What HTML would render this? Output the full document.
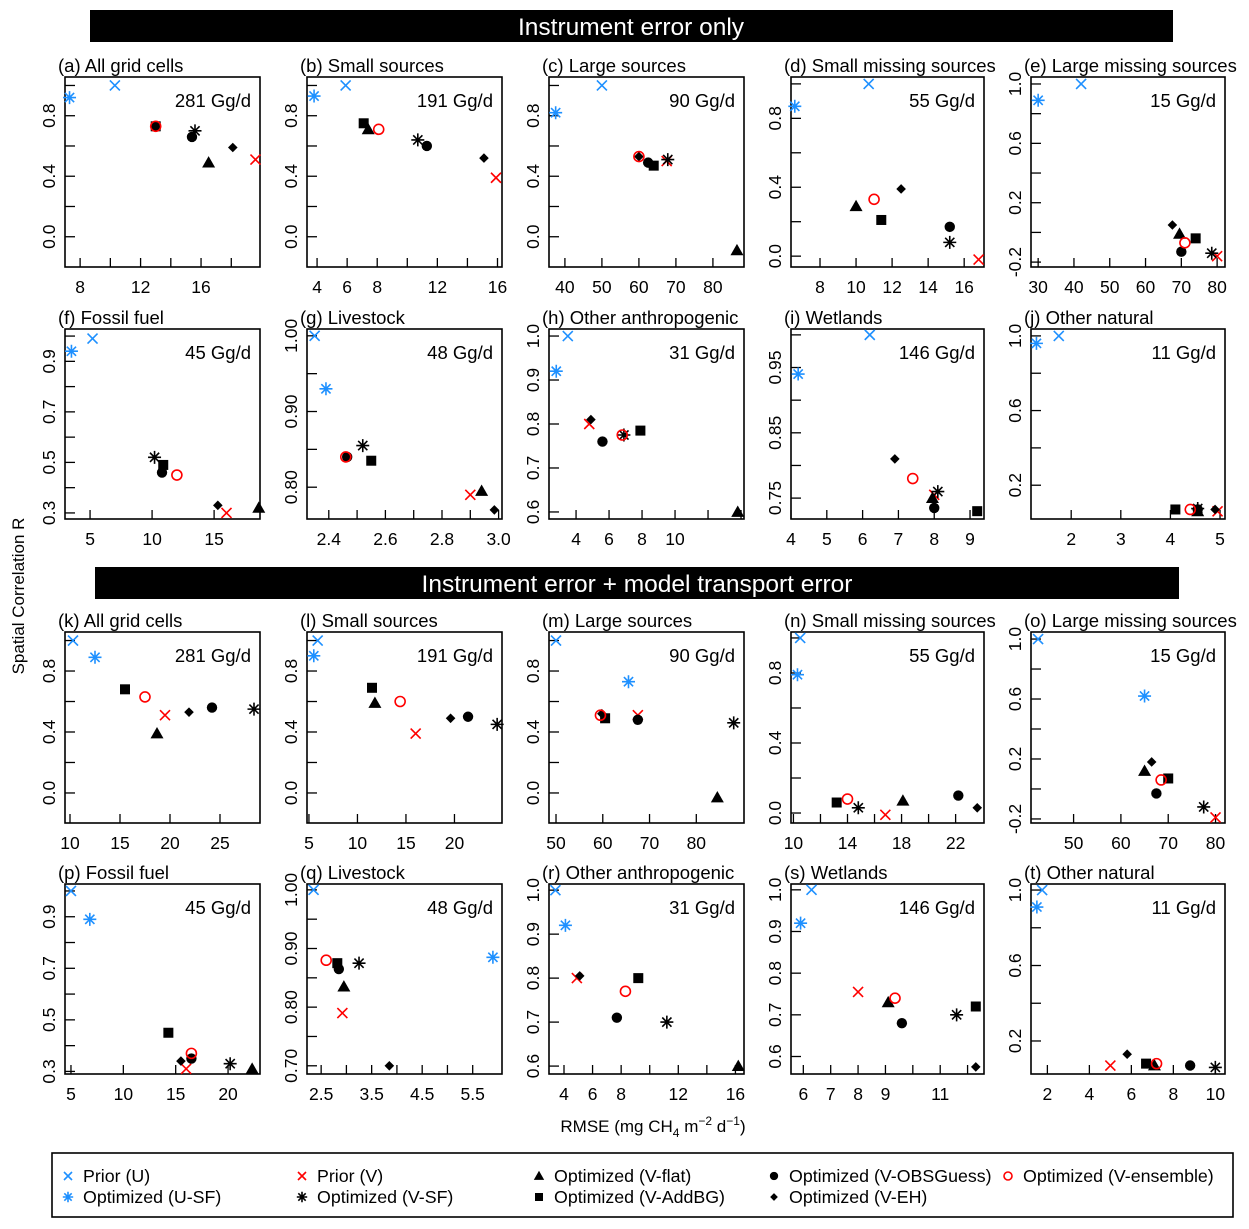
<!DOCTYPE html>
<html><head><meta charset="utf-8">
<style>
html,body{margin:0;padding:0;background:#fff;}
svg{display:block;font-family:"Liberation Sans",Arial,sans-serif;}
</style></head>
<body>
<svg id="chart" width="1249" height="1229" viewBox="0 0 1249 1229" xmlns="http://www.w3.org/2000/svg">
  <rect x="90" y="10" width="1083" height="32" fill="#000"/>
  <text x="631" y="35" font-size="24.5" fill="#fff" text-anchor="middle">Instrument error only</text>
  <rect x="95" y="567" width="1084" height="32" fill="#000"/>
  <text x="637" y="592" font-size="24.5" fill="#fff" text-anchor="middle">Instrument error + model transport error</text>
  <text transform="translate(24,596) rotate(-90)" font-size="17" text-anchor="middle">Spatial Correlation R</text>
  <text x="653" y="1132" font-size="17" text-anchor="middle">RMSE (mg CH<tspan font-size="12" dy="5">4</tspan><tspan dy="-5"> m</tspan><tspan font-size="12" dy="-7">−2</tspan><tspan dy="7"> d</tspan><tspan font-size="12" dy="-7">−1</tspan><tspan dy="7">)</tspan></text>
  <g id="panels"></g>
  <g id="legend"></g>
</svg>
<script>
// ----- data (panels a..t) -----
const panelIds = ["a","b","c","d","e","f","g","h","i","j","k","l","m","n","o","p","q","r","s","t"];
const panelTitles = ["All grid cells","Small sources","Large sources","Small missing sources","Large missing sources","Fossil fuel","Livestock","Other anthropogenic","Wetlands","Other natural","All grid cells","Small sources","Large sources","Small missing sources","Large missing sources","Fossil fuel","Livestock","Other anthropogenic","Wetlands","Other natural"];
const panelTotals = ["281 Gg/d","191 Gg/d","90 Gg/d","55 Gg/d","15 Gg/d","45 Gg/d","48 Gg/d","31 Gg/d","146 Gg/d","11 Gg/d","281 Gg/d","191 Gg/d","90 Gg/d","55 Gg/d","15 Gg/d","45 Gg/d","48 Gg/d","31 Gg/d","146 Gg/d","11 Gg/d"];

const priorU_x = [10.3,5.9,50,10.7,42,5.2,2.35,3.5,6.2,1.75,10.3,5.9,50,10.5,42.5,5,2.35,3.4,6.3,1.75];
const priorU_y = [1.0,1.0,1.0,1.0,1.0,0.99,1.0,1.0,1.0,1.0,1.0,1.0,1.0,1.0,1.0,1.0,1.0,1.0,1.0,1.0];
const optUSF_x = [7.3,3.8,37.5,6.6,30,3.5,2.39,2.8,4.2,1.3,12.5,5.5,65.5,10.3,65,6.8,5.9,4.1,5.9,1.5];
const optUSF_y = [0.92,0.93,0.82,0.87,0.89,0.94,0.93,0.92,0.94,0.96,0.89,0.90,0.73,0.79,0.62,0.89,0.885,0.92,0.92,0.91];
const priorV_x = [19.6,15.9,67.5,16.8,80,16,2.9,4.8,8,4.95,19.5,16,67.5,16.8,80,16,2.92,4.9,8,5];
const priorV_y = [0.51,0.39,0.50,-0.02,-0.16,0.30,0.79,0.80,0.755,0.06,0.51,0.39,0.51,-0.01,-0.19,0.31,0.79,0.80,0.755,0.07];
const optVSF_x = [15.6,10.7,67.8,15.2,78.5,10.2,2.52,6.9,8.1,4.55,28.4,24.4,88,14.8,77.5,20.2,3.25,11.2,11.6,10];
const optVSF_y = [0.70,0.64,0.51,0.08,-0.14,0.52,0.855,0.775,0.76,0.075,0.55,0.45,0.46,0.03,-0.12,0.33,0.875,0.70,0.70,0.06];
const optFlat_x = [16.5,7.4,86.5,10,69.5,18.6,2.94,13.8,7.95,4.55,18.7,11.8,84.5,18.1,65,22.3,2.95,16.2,9.1,7.1];
const optFlat_y = [0.49,0.71,-0.09,0.29,-0.01,0.32,0.795,0.60,0.75,0.06,0.39,0.59,-0.03,0.07,0.12,0.31,0.835,0.60,0.73,0.07];
const optAddBG_x = [13,7.1,64,11.4,74,10.9,2.55,7.9,9.2,4.1,15.5,11.5,60.5,13.2,70,14.3,2.82,9.2,12.3,6.7];
const optAddBG_y = [0.73,0.75,0.47,0.21,-0.04,0.49,0.835,0.785,0.73,0.07,0.68,0.69,0.49,0.06,0.07,0.45,0.875,0.80,0.72,0.08];
const optObs_x = [15.4,11.3,62.5,15.2,70,10.8,2.465,5.6,8,4.55,24.2,21.4,67.5,22.2,67.5,16.5,2.85,7.7,9.6,8.8];
const optObs_y = [0.66,0.60,0.49,0.17,-0.13,0.46,0.84,0.76,0.735,0.07,0.56,0.50,0.48,0.10,-0.03,0.35,0.865,0.71,0.68,0.07];
const optEH_x = [18.1,15.1,60,12.5,67.5,15.3,2.985,4.9,6.9,4.9,21.9,19.6,59.8,23.6,66.5,15.5,3.85,5.1,12.3,5.8];
const optEH_y = [0.59,0.52,0.53,0.39,0.05,0.33,0.77,0.81,0.81,0.07,0.53,0.49,0.52,0.03,0.18,0.34,0.70,0.805,0.575,0.13];
const optEns_x = [13,8.1,60,11,71,12,2.46,6.8,7.4,4.4,17.5,14.4,59.5,14,68.5,16.5,2.6,8.3,9.35,7.2];
const optEns_y = [0.73,0.71,0.53,0.33,-0.07,0.45,0.84,0.775,0.78,0.07,0.63,0.60,0.51,0.08,0.06,0.37,0.88,0.77,0.74,0.08];

// tick values and labels per panel
const xTicks = [[8,10,12,14,16,18],[4,6,8,10,12,14,16],[40,50,60,70,80],[8,10,12,14,16],[30,40,50,60,70,80],[5,10,15],[2.4,2.5,2.6,2.7,2.8,2.9,3.0],[4,6,8,10,12,14],[4,5,6,7,8,9],[2,3,4,5],
  [10,15,20,25],[5,10,15,20],[50,60,70,80],[10,12,14,16,18,20,22],[50,60,70,80],[5,10,15,20],[2.5,3,3.5,4,4.5,5,5.5],[4,6,8,10,12,14,16],[6,7,8,9,10,11,12],[2,4,6,8,10]];
const xLabels = [["8","12","16"],["4","6","8","12","16"],["40","50","60","70","80"],["8","10","12","14","16"],["30","40","50","60","70","80"],["5","10","15"],["2.4","2.6","2.8","3.0"],["4","6","8","10"],["4","5","6","7","8","9"],["2","3","4","5"],
  ["10","15","20","25"],["5","10","15","20"],["50","60","70","80"],["10","14","18","22"],["50","60","70","80"],["5","10","15","20"],["2.5","3.5","4.5","5.5"],["4","6","8","12","16"],["6","7","8","9","11"],["2","4","6","8","10"]];
const yTicks = [[0,0.2,0.4,0.6,0.8,1.0],[0,0.2,0.4,0.6,0.8,1.0],[0,0.2,0.4,0.6,0.8,1.0],[0,0.2,0.4,0.6,0.8,1.0],[-0.2,0,0.2,0.4,0.6,0.8,1.0],[0.3,0.4,0.5,0.6,0.7,0.8,0.9,1.0],[0.8,0.85,0.9,0.95,1.0],[0.6,0.7,0.8,0.9,1.0],[0.75,0.8,0.85,0.9,0.95,1.0],[0.2,0.4,0.6,0.8,1.0],
  [0,0.2,0.4,0.6,0.8,1.0],[0,0.2,0.4,0.6,0.8,1.0],[0,0.2,0.4,0.6,0.8,1.0],[0,0.2,0.4,0.6,0.8,1.0],[-0.2,0,0.2,0.4,0.6,0.8,1.0],[0.3,0.4,0.5,0.6,0.7,0.8,0.9,1.0],[0.7,0.75,0.8,0.85,0.9,0.95,1.0],[0.6,0.7,0.8,0.9,1.0],[0.6,0.7,0.8,0.9,1.0],[0.2,0.4,0.6,0.8,1.0]];
const yLabels = [["0.0","0.4","0.8"],["0.0","0.4","0.8"],["0.0","0.4","0.8"],["0.0","0.4","0.8"],["-0.2","0.2","0.6","1.0"],["0.3","0.5","0.7","0.9"],["0.80","0.90","1.00"],["0.6","0.7","0.8","0.9","1.0"],["0.75","0.85","0.95"],["0.2","0.6","1.0"],
  ["0.0","0.4","0.8"],["0.0","0.4","0.8"],["0.0","0.4","0.8"],["0.0","0.4","0.8"],["-0.2","0.2","0.6","1.0"],["0.3","0.5","0.7","0.9"],["0.70","0.80","0.90","1.00"],["0.6","0.7","0.8","0.9","1.0"],["0.6","0.7","0.8","0.9","1.0"],["0.2","0.6","1.0"]];

// axis limits (scale domains)
const xLims = [[7.0,19.9],[3.33,16.3],[35.7,88.4],[6.39,17.1],[28.0,82.2],[2.98,18.7],[2.323,3.012],[2.36,14.18],[4.0,9.39],[1.19,5.1],
  [9.5,29],[4.8,24.9],[48.5,90.2],[9.82,24.1],[41.0,82.0],[4.43,23.05],[2.22,6.08],[2.95,16.6],[5.55,12.6],[1.22,10.46]];
const yLims = [[-0.2,1.056],[-0.2,1.056],[-0.2,1.056],[-0.063,1.04],[-0.233,1.047],[0.276,1.028],[0.758,1.009],[0.584,1.016],[0.718,1.009],[0.019,1.037],
  [-0.197,1.056],[-0.197,1.056],[-0.197,1.056],[-0.057,1.034],[-0.227,1.047],[0.29,1.027],[0.686,1.010],[0.582,1.014],[0.558,1.014],[0.025,1.032]];

// ----- layout -----
const colL = [65,307,549,791,1031], colR = [260,502,744,984,1225];
const rowT = [77,329,632,884], rowB = [267,519,823,1074];
const NS = "http://www.w3.org/2000/svg";
const BLUE = "#1E90FF", RED = "#FF0000";
function mk(tag, attrs, parent){ const e=document.createElementNS(NS,tag); for(const k in attrs) e.setAttribute(k,attrs[k]); if(parent) parent.appendChild(e); return e; }

function marker(g, type, cx, cy, legend){
  const s = legend ? 0.8 : 1;
  let el;
  if(type==="xblue"||type==="xred"){
    const c = type==="xblue"?BLUE:RED, h=5*s;
    el = mk("path",{d:`M${cx-h},${cy-h}L${cx+h},${cy+h}M${cx-h},${cy+h}L${cx+h},${cy-h}`,stroke:c,"stroke-width":1.6,fill:"none"},g);
  } else if(type==="starblue"||type==="starblack"){
    const c = type==="starblue"?BLUE:"#000", h=6.5*s, d=4.6*s;
    el = mk("path",{d:`M${cx-h},${cy}L${cx+h},${cy}M${cx},${cy-h}L${cx},${cy+h}M${cx-d},${cy-d}L${cx+d},${cy+d}M${cx-d},${cy+d}L${cx+d},${cy-d}`,stroke:c,"stroke-width":1.6,fill:"none"},g);
  } else if(type==="tri"){
    const h=6.5*s;
    el = mk("path",{d:`M${cx},${cy-h}L${cx+h},${cy+h*0.75}L${cx-h},${cy+h*0.75}Z`,fill:"#000"},g);
  } else if(type==="sq"){
    const h=5*s;
    el = mk("rect",{x:cx-h,y:cy-h,width:2*h,height:2*h,fill:"#000"},g);
  } else if(type==="dot"){
    el = mk("circle",{cx:cx,cy:cy,r:5.2*s,fill:"#000"},g);
  } else if(type==="dia"){
    const h=4.8*s;
    el = mk("path",{d:`M${cx},${cy-h}L${cx+h},${cy}L${cx},${cy+h}L${cx-h},${cy}Z`,fill:"#000"},g);
  } else if(type==="ring"){
    el = mk("circle",{cx:cx,cy:cy,r:5*s,fill:"none",stroke:RED,"stroke-width":1.6},g);
  }
  return el;
}

const seriesDefs = [
  {name:"prior-u", label:"Prior (U)", type:"xblue", xs:priorU_x, ys:priorU_y},
  {name:"optimized-u-sf", label:"Optimized (U-SF)", type:"starblue", xs:optUSF_x, ys:optUSF_y},
  {name:"prior-v", label:"Prior (V)", type:"xred", xs:priorV_x, ys:priorV_y},
  {name:"optimized-v-sf", label:"Optimized (V-SF)", type:"starblack", xs:optVSF_x, ys:optVSF_y},
  {name:"optimized-v-flat", label:"Optimized (V-flat)", type:"tri", xs:optFlat_x, ys:optFlat_y},
  {name:"optimized-v-addbg", label:"Optimized (V-AddBG)", type:"sq", xs:optAddBG_x, ys:optAddBG_y},
  {name:"optimized-v-obsguess", label:"Optimized (V-OBSGuess)", type:"dot", xs:optObs_x, ys:optObs_y},
  {name:"optimized-v-eh", label:"Optimized (V-EH)", type:"dia", xs:optEH_x, ys:optEH_y},
  {name:"optimized-v-ensemble", label:"Optimized (V-ensemble)", type:"ring", xs:optEns_x, ys:optEns_y}
];

const root = document.getElementById("panels");
panelIds.forEach((pid, i) => {
  const col = i % 5, row = Math.floor(i / 5);
  const L = colL[col], R = colR[col], T = rowT[row], B = rowB[row];
  const xl = xLims[i], yl = yLims[i];
  const sx = v => L + (v - xl[0]) / (xl[1] - xl[0]) * (R - L);
  const sy = v => B - (v - yl[0]) / (yl[1] - yl[0]) * (B - T);
  const g = mk("g",{},root);
  
  
  const title = mk("text",{x:L-7,y:T-5,"font-size":18.5},g);
  title.textContent = "(" + pid + ") " + panelTitles[i];
  
  
  const tot = mk("text",{x:R-9,y:T+30,"font-size":18.5,"text-anchor":"end"},g);
  tot.textContent = panelTotals[i];
  
  
  xTicks[i].forEach(v => { const x=sx(v); mk("line",{x1:x,x2:x,y1:B,y2:B-9,stroke:"#000","stroke-width":1.3},g); });
  yTicks[i].forEach(v => { const y=sy(v); mk("line",{x1:L,x2:L+10,y1:y,y2:y,stroke:"#000","stroke-width":1.3},g); });
  xLabels[i].forEach(s => {
    const t = mk("text",{x:sx(parseFloat(s)),y:B+26,"font-size":17.5,"text-anchor":"middle"},g);
    t.textContent = s;
    
    
  });
  yLabels[i].forEach(s => {
    const y = sy(parseFloat(s));
    const t = mk("text",{transform:`translate(${L-10},${y}) rotate(-90)`,"font-size":17.5,"text-anchor":"middle"},g);
    t.textContent = s;
    
    
  });
  const box = mk("rect",{x:L,y:T,width:R-L,height:B-T,fill:"none",stroke:"#000","stroke-width":1.6},g);
  
  
  seriesDefs.forEach(sd => {
    const m = marker(g, sd.type, sx(sd.xs[i]), sy(sd.ys[i]), false);
    
    
  });
});

// legend
const lg = document.getElementById("legend");
const lbox = mk("rect",{x:52,y:1153,width:1181,height:64,fill:"#fff",stroke:"#000","stroke-width":1.6},lg);


const legPos = [[68,1176],[68,1197],[302,1176],[302,1197],[539,1176],[539,1197],[774,1176],[774,1197],[1008,1176]];
seriesDefs.forEach((sd, k) => {
  const p = legPos[k];
  const eg = mk("g",{},lg);
  
  
  marker(eg, sd.type, p[0], p[1], true);
  const t = mk("text",{x:p[0]+15,y:p[1]+6,"font-size":17.8},eg);
  t.textContent = sd.label;
});
</script>
</body></html>
